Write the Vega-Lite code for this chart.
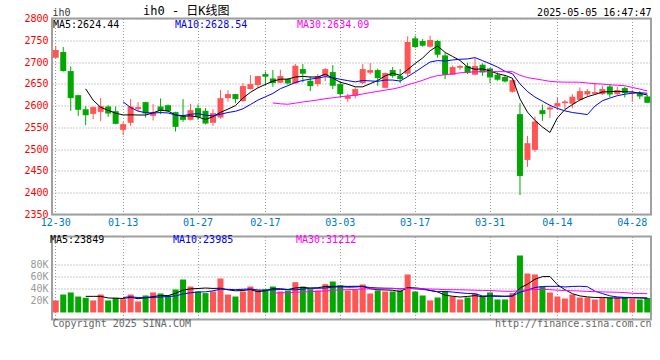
{
"$schema": "https://vega.github.io/schema/vega-lite/v6.json",
"background": "white",
"padding": {"left": 22, "top": 3.5, "right": 0, "bottom": 0},
"config": {
  "font": "DejaVu Sans Mono",
  "view": {"stroke": "#A0A0A0", "strokeWidth": 2},
  "axis": {"labelFont": "DejaVu Sans Mono", "labelFontSize": 10, "ticks": false, "domain": false, "gridColor": "#999999", "gridDash": [1, 2], "gridWidth": 1, "gridOpacity": 1, "titleFont": "DejaVu Sans Mono", "titleFontSize": 10, "titleFontWeight": "normal"},
  "legend": {"labelFont": "DejaVu Sans Mono", "labelFontSize": 10, "symbolSize": 0, "symbolStrokeWidth": 0, "symbolOpacity": 0, "labelOffset": -10, "padding": 0, "gridAlign": "all", "columns": 3, "direction": "horizontal", "orient": "top-left", "labelLimit": 200}
},
"datasets": {"k": [
{"d":"2024-12-30","o":2709.8,"h":2736.8,"l":2709,"c":2727.6,"v":19800},
{"d":"2024-12-31","o":2723,"h":2734.5,"l":2678,"c":2679.3,"v":29700},
{"d":"2025-01-02","o":2679.3,"h":2690,"l":2588,"c":2617.2,"v":33100},
{"d":"2025-01-03","o":2624,"h":2625,"l":2576.5,"c":2590.4,"v":26400},
{"d":"2025-01-06","o":2591.9,"h":2598.8,"l":2555.1,"c":2578,"v":24300},
{"d":"2025-01-07","o":2581.1,"h":2598.5,"l":2568.9,"c":2596.5,"v":19800},
{"d":"2025-01-08","o":2585.7,"h":2617.2,"l":2564.3,"c":2598.8,"v":29700},
{"d":"2025-01-09","o":2598,"h":2601,"l":2574.3,"c":2581.9,"v":19800},
{"d":"2025-01-10","o":2587.3,"h":2598,"l":2557,"c":2558.1,"v":24300},
{"d":"2025-01-13","o":2544.3,"h":2562.7,"l":2532.1,"c":2557.4,"v":22000},
{"d":"2025-01-14","o":2560.5,"h":2614.9,"l":2553.5,"c":2598,"v":29700},
{"d":"2025-01-15","o":2591.9,"h":2608,"l":2587.3,"c":2596.5,"v":18100},
{"d":"2025-01-16","o":2608,"h":2609,"l":2572.7,"c":2581.9,"v":28100},
{"d":"2025-01-17","o":2576.5,"h":2603.4,"l":2565.8,"c":2584.2,"v":33100},
{"d":"2025-01-20","o":2598,"h":2616.4,"l":2580.4,"c":2587.3,"v":31400},
{"d":"2025-01-21","o":2601,"h":2602.6,"l":2586,"c":2587.3,"v":28100},
{"d":"2025-01-22","o":2585,"h":2586,"l":2540.5,"c":2551.2,"v":38000},
{"d":"2025-01-23","o":2575,"h":2614.9,"l":2562.7,"c":2567.3,"v":54500},
{"d":"2025-01-24","o":2567.3,"h":2604.2,"l":2566,"c":2589.6,"v":42900},
{"d":"2025-01-27","o":2594.2,"h":2602.6,"l":2567.3,"c":2574.2,"v":34700},
{"d":"2025-02-05","o":2588,"h":2594.2,"l":2557,"c":2558.9,"v":32000},
{"d":"2025-02-06","o":2560.5,"h":2591.9,"l":2553.5,"c":2582.7,"v":34700},
{"d":"2025-02-07","o":2572.7,"h":2635.6,"l":2570,"c":2617.2,"v":56200},
{"d":"2025-02-10","o":2617.2,"h":2635.6,"l":2608.7,"c":2626.4,"v":29700},
{"d":"2025-02-11","o":2626.4,"h":2627,"l":2605.7,"c":2614.9,"v":26400},
{"d":"2025-02-12","o":2610.3,"h":2651.7,"l":2608,"c":2644.8,"v":34700},
{"d":"2025-02-13","o":2637.9,"h":2670.1,"l":2637,"c":2649.4,"v":42900},
{"d":"2025-02-14","o":2647.1,"h":2668.5,"l":2641,"c":2667.8,"v":37400},
{"d":"2025-02-17","o":2672.4,"h":2678.5,"l":2645.6,"c":2666.3,"v":38500},
{"d":"2025-02-18","o":2662.4,"h":2681.6,"l":2643.3,"c":2651.7,"v":42900},
{"d":"2025-02-19","o":2652.5,"h":2682.3,"l":2651.7,"c":2667.8,"v":34700},
{"d":"2025-02-20","o":2660.9,"h":2662.4,"l":2648.6,"c":2650.9,"v":36400},
{"d":"2025-02-21","o":2650.9,"h":2695.4,"l":2650,"c":2691.6,"v":50100},
{"d":"2025-02-24","o":2683.9,"h":2695.4,"l":2653.2,"c":2673.2,"v":42900},
{"d":"2025-02-25","o":2657.1,"h":2667,"l":2633.3,"c":2644.8,"v":38500},
{"d":"2025-02-26","o":2649.4,"h":2672.4,"l":2644,"c":2667.8,"v":36400},
{"d":"2025-02-27","o":2667.8,"h":2686.2,"l":2656.3,"c":2683.9,"v":46800},
{"d":"2025-02-28","o":2677,"h":2693.1,"l":2637.9,"c":2645.6,"v":51200},
{"d":"2025-03-03","o":2649.4,"h":2656,"l":2618.7,"c":2626.4,"v":44700},
{"d":"2025-03-04","o":2615.6,"h":2627,"l":2608.7,"c":2621.8,"v":36400},
{"d":"2025-03-05","o":2622.6,"h":2641.7,"l":2616.4,"c":2637.9,"v":37500},
{"d":"2025-03-06","o":2651.7,"h":2695.4,"l":2649.4,"c":2683.9,"v":46300},
{"d":"2025-03-07","o":2675.5,"h":2697.7,"l":2671.6,"c":2681.6,"v":31400},
{"d":"2025-03-10","o":2681.6,"h":2685,"l":2645.6,"c":2663.2,"v":36400},
{"d":"2025-03-11","o":2640.9,"h":2675.5,"l":2640,"c":2674.7,"v":34700},
{"d":"2025-03-12","o":2681.6,"h":2688.5,"l":2664,"c":2667.8,"v":34700},
{"d":"2025-03-13","o":2668.5,"h":2683.9,"l":2651.7,"c":2660.9,"v":36400},
{"d":"2025-03-14","o":2673.2,"h":2759,"l":2667,"c":2746,"v":62800},
{"d":"2025-03-17","o":2754.4,"h":2760.6,"l":2732.2,"c":2734.5,"v":34700},
{"d":"2025-03-18","o":2748.3,"h":2752.9,"l":2735.2,"c":2737.5,"v":28100},
{"d":"2025-03-19","o":2735.2,"h":2760.6,"l":2733,"c":2750.6,"v":19800},
{"d":"2025-03-20","o":2748.3,"h":2750.6,"l":2710,"c":2716.9,"v":24800},
{"d":"2025-03-21","o":2715.3,"h":2720.5,"l":2660.9,"c":2670.9,"v":35300},
{"d":"2025-03-24","o":2670.9,"h":2691.5,"l":2670,"c":2688.5,"v":26400},
{"d":"2025-03-25","o":2687,"h":2693.1,"l":2681.6,"c":2690.8,"v":21500},
{"d":"2025-03-26","o":2690.8,"h":2698.5,"l":2672.4,"c":2675.5,"v":24800},
{"d":"2025-03-27","o":2670.9,"h":2708.4,"l":2670,"c":2690.8,"v":31400},
{"d":"2025-03-28","o":2693.9,"h":2697,"l":2668.5,"c":2676.2,"v":26400},
{"d":"2025-03-31","o":2685.4,"h":2687,"l":2650.9,"c":2664.7,"v":33100},
{"d":"2025-04-01","o":2670.9,"h":2676,"l":2657,"c":2659.4,"v":21500},
{"d":"2025-04-02","o":2665.5,"h":2670,"l":2653,"c":2655.5,"v":21500},
{"d":"2025-04-03","o":2631.8,"h":2662,"l":2630,"c":2658.6,"v":32000},
{"d":"2025-04-07","o":2580.4,"h":2605.7,"l":2394.8,"c":2438.5,"v":94200},
{"d":"2025-04-08","o":2475.3,"h":2530.5,"l":2459.2,"c":2513.7,"v":64400},
{"d":"2025-04-09","o":2498.3,"h":2575,"l":2493.7,"c":2563.5,"v":62800},
{"d":"2025-04-10","o":2589.6,"h":2602.6,"l":2565,"c":2580.4,"v":42900},
{"d":"2025-04-11","o":2591.1,"h":2602,"l":2571.9,"c":2595.7,"v":33100},
{"d":"2025-04-14","o":2598,"h":2618.7,"l":2590,"c":2605.7,"v":26400},
{"d":"2025-04-15","o":2605.7,"h":2612.6,"l":2591.9,"c":2609.5,"v":23100},
{"d":"2025-04-16","o":2604.2,"h":2626.4,"l":2594,"c":2620.3,"v":29700},
{"d":"2025-04-17","o":2613.3,"h":2641.7,"l":2611,"c":2633.3,"v":24800},
{"d":"2025-04-18","o":2625.6,"h":2637.9,"l":2621,"c":2633.3,"v":24800},
{"d":"2025-04-21","o":2627.2,"h":2651.7,"l":2625,"c":2631,"v":21500},
{"d":"2025-04-22","o":2626.4,"h":2646,"l":2624.5,"c":2637.9,"v":24000},
{"d":"2025-04-23","o":2644,"h":2649.4,"l":2619.5,"c":2625.6,"v":24800},
{"d":"2025-04-24","o":2626.4,"h":2643,"l":2624.5,"c":2635.6,"v":24800},
{"d":"2025-04-25","o":2640.2,"h":2643.3,"l":2618.7,"c":2628.7,"v":25500},
{"d":"2025-04-28","o":2627.9,"h":2635.6,"l":2608.7,"c":2630.2,"v":23100},
{"d":"2025-04-29","o":2627.9,"h":2633.3,"l":2614.9,"c":2621,"v":21500},
{"d":"2025-04-30","o":2621,"h":2624.9,"l":2605.5,"c":2606.5,"v":24000}
]},
"spacing": 5,
"resolve": {"scale": {"color": "independent"}},
"vconcat": [
{
  "width": 599, "height": 196,
  "title": {"text": "ih0 - 日K线图", "anchor": "start", "frame": "group", "dx": 91, "offset": -10.5, "font": "DejaVu Sans Mono, Noto Sans CJK SC", "fontSize": 12, "fontWeight": "normal", "color": "#000000"},
  "data": {"name": "k"},
  "encoding": {
    "x": {"field": "d", "type": "ordinal", "scale": {"paddingInner": 0.2, "paddingOuter": 0.1},
      "axis": {"values": ["2024-12-30","2025-01-13","2025-01-27","2025-02-17","2025-03-03","2025-03-17","2025-03-31","2025-04-14","2025-04-28"], "labelExpr": "slice(datum.value, 5)", "labelAngle": 0, "labelColor": "#0078C8", "labelPadding": 3, "grid": true, "title": null}}
  },
  "layer": [
    {"mark": {"type": "rule", "strokeWidth": 1},
     "encoding": {
       "y": {"field": "l", "type": "quantitative", "scale": {"domain": [2350, 2800], "nice": false, "zero": false},
         "axis": {"values": [2350,2400,2450,2500,2550,2600,2650,2700,2750,2800], "format": "d", "labelColor": "#FF0000", "labelPadding": 4, "grid": true, "orient": "left",
           "title": "ih0", "titleAngle": 0, "titleAlign": "left", "titleBaseline": "bottom", "titleX": 0, "titleY": -1, "titleColor": "#333333"}},
       "y2": {"field": "h"},
       "color": {"condition": {"test": "datum.c >= datum.o", "value": "#FF5555"}, "value": "#00A800"}
     }},
    {"mark": {"type": "bar"},
     "encoding": {
       "y": {"field": "o", "type": "quantitative",
         "axis": {"orient": "right", "labels": false, "grid": false, "title": "2025-05-05 16:47:47", "titleAngle": 0, "titleAlign": "right", "titleBaseline": "bottom", "titleX": 0, "titleY": -1, "titleColor": "#000000"}},
       "y2": {"field": "c"},
       "color": {"condition": {"test": "datum.c >= datum.o", "value": "#FF5555"}, "value": "#00A800"}
     }},
    {"transform": [{"window": [{"op": "mean", "field": "c", "as": "m"}, {"op": "count", "as": "n"}], "frame": [-4, 0], "sort": [{"field": "d"}]}, {"filter": "datum.n == 5"}],
     "mark": {"type": "line", "strokeWidth": 1},
     "encoding": {
       "y": {"field": "m", "type": "quantitative", "axis": null},
       "color": {"datum": "MA5:2624.44", "type": "nominal",
         "scale": {"domain": ["MA5:2624.44", "MA10:2628.54", "MA30:2634.09"], "range": ["#000000", "#0000FF", "#FF00FF"]},
         "legend": {"title": null, "offset": 1, "columnPadding": 49,
           "encode": {"labels": {"update": {"fill": {"signal": "indexof(datum.value,'MA10')===0 ? '#0000FF' : (indexof(datum.value,'MA30')===0 ? '#FF00FF' : '#000000')"}}}}}}
     }},
    {"transform": [{"window": [{"op": "mean", "field": "c", "as": "m"}, {"op": "count", "as": "n"}], "frame": [-9, 0], "sort": [{"field": "d"}]}, {"filter": "datum.n == 10"}],
     "mark": {"type": "line", "strokeWidth": 1},
     "encoding": {
       "y": {"field": "m", "type": "quantitative", "axis": null},
       "color": {"datum": "MA10:2628.54", "type": "nominal"}
     }},
    {"transform": [{"window": [{"op": "mean", "field": "c", "as": "m"}, {"op": "count", "as": "n"}], "frame": [-29, 0], "sort": [{"field": "d"}]}, {"filter": "datum.n == 30"}],
     "mark": {"type": "line", "strokeWidth": 1},
     "encoding": {
       "y": {"field": "m", "type": "quantitative", "axis": null},
       "color": {"datum": "MA30:2634.09", "type": "nominal"}
     }}
  ],
  "resolve": {"axis": {"y": "independent"}}
},
{
  "width": 599, "height": 83,
  "data": {"name": "k"},
  "encoding": {
    "x": {"field": "d", "type": "ordinal", "scale": {"paddingInner": 0.2, "paddingOuter": 0.1},
      "axis": {"values": ["2024-12-30","2025-01-13","2025-01-27","2025-02-17","2025-03-03","2025-03-17","2025-03-31","2025-04-14","2025-04-28"], "labels": false, "grid": true,
        "title": "Copyright 2025 SINA.COM", "titleAnchor": "start", "titlePadding": -1, "titleColor": "#666666"}}
  },
  "layer": [
    {"mark": {"type": "bar"},
     "encoding": {
       "y": {"field": "v", "type": "quantitative", "scale": {"domain": [-11600, 125600], "nice": false, "zero": false},
         "axis": {"values": [20000, 40000, 60000, 80000], "labelExpr": "datum.value / 1000 + 'K'", "labelColor": "#999999", "labelPadding": 4, "grid": true, "title": null, "orient": "left"}},
       "y2": {"datum": 0},
       "color": {"condition": {"test": "datum.c >= datum.o", "value": "#FF5555"}, "value": "#00A800"}
     }},
    {"transform": [{"window": [{"op": "mean", "field": "v", "as": "m"}, {"op": "count", "as": "n"}], "frame": [-4, 0], "sort": [{"field": "d"}]}, {"filter": "datum.n == 5"}],
     "mark": {"type": "line", "strokeWidth": 1},
     "encoding": {
       "y": {"field": "m", "type": "quantitative",
         "axis": {"orient": "right", "labels": false, "grid": false, "title": "http://finance.sina.com.cn", "titleAngle": 0, "titleAlign": "right", "titleBaseline": "top", "titleX": 0, "titleY": 82, "titleColor": "#666666"}},
       "color": {"datum": "MA5:23849", "type": "nominal",
         "scale": {"domain": ["MA5:23849", "MA10:23985", "MA30:31212"], "range": ["#000000", "#0000FF", "#FF00FF"]},
         "legend": {"title": null, "offset": -2, "columnPadding": 62,
           "encode": {"labels": {"update": {"fill": {"signal": "indexof(datum.value,'MA10')===0 ? '#0000FF' : (indexof(datum.value,'MA30')===0 ? '#FF00FF' : '#000000')"}}}}}}
     }},
    {"transform": [{"window": [{"op": "mean", "field": "v", "as": "m"}, {"op": "count", "as": "n"}], "frame": [-9, 0], "sort": [{"field": "d"}]}, {"filter": "datum.n == 10"}],
     "mark": {"type": "line", "strokeWidth": 1},
     "encoding": {
       "y": {"field": "m", "type": "quantitative", "axis": null},
       "color": {"datum": "MA10:23985", "type": "nominal"}
     }},
    {"transform": [{"window": [{"op": "mean", "field": "v", "as": "m"}, {"op": "count", "as": "n"}], "frame": [-29, 0], "sort": [{"field": "d"}]}, {"filter": "datum.n == 30"}],
     "mark": {"type": "line", "strokeWidth": 1},
     "encoding": {
       "y": {"field": "m", "type": "quantitative", "axis": null},
       "color": {"datum": "MA30:31212", "type": "nominal"}
     }}
  ],
  "resolve": {"axis": {"y": "independent"}}
}
]
}
